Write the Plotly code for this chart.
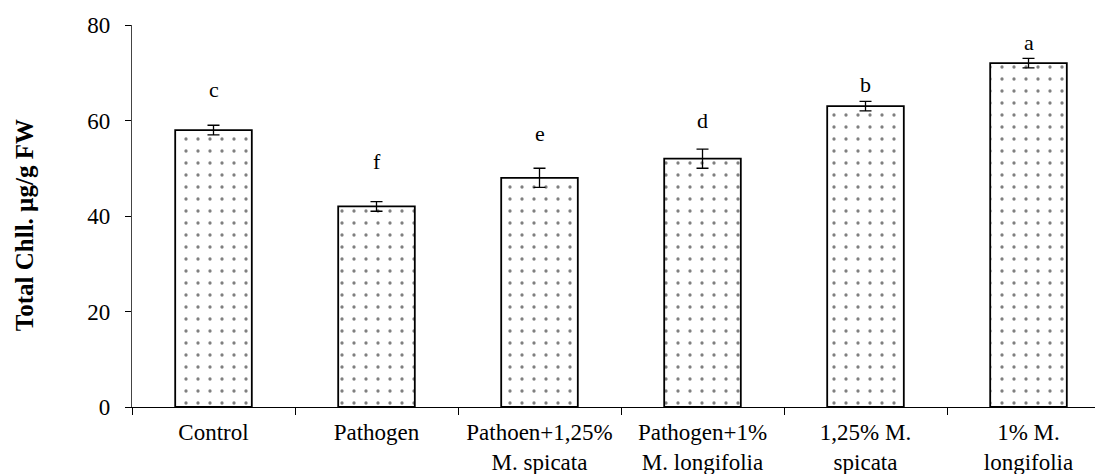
import plotly.graph_objects as go

categories = ["Control", "Pathogen", "Pathoen+1,25%<br>M. spicata", "Pathogen+1%<br>M. longifolia",
              "1,25% M.<br>spicata", "1% M.<br>longifolia"]
values = [58, 42, 48, 52, 63, 72]
errors = [1, 1, 2, 2, 1, 1]
letters = ["c", "f", "e", "d", "b", "a"]
letter_y = [66.4, 51.5, 57.2, 59.9, 67.6, 76.4]
y_ticks = [0, 20, 40, 60, 80]

font_family = "Liberation Serif, Times New Roman, serif"

fig = go.Figure()
fig.add_trace(go.Bar(
    x=categories, y=values,
    width=0.47,
    marker=dict(color="white",
                line=dict(color="black", width=1.8),
                pattern=dict(shape=".", fgcolor="black", bgcolor="white", size=12, solidity=0.06)),
    error_y=dict(type="data", array=errors, visible=True, color="black", thickness=1.3, width=6),
    showlegend=False,
))

for c, l, ly in zip(categories, letters, letter_y):
    fig.add_annotation(x=c, y=ly, text=l, showarrow=False,
                       font=dict(family=font_family, size=22, color="black"))

# y-axis title as a rotated annotation (placed a little below the axis centre, as in the reference)
fig.add_annotation(x=0, xref="paper", y=0.476, yref="paper", xanchor="center", yanchor="middle",
                   xshift=-108, textangle=-90, showarrow=False,
                   text="<b>Total Chll. µg/g FW</b>",
                   font=dict(family=font_family, size=25, color="black"))

# page body has an 8px margin; compensate so the plot area sits where the reference's does
fig.update_layout(
    width=1095, height=466,
    margin=dict(l=124, r=0, t=17, b=67),
    paper_bgcolor="white", plot_bgcolor="white",
    font=dict(family=font_family, size=22, color="black"),
)
fig.update_xaxes(
    range=[-0.5, 5.457],
    showline=True, linecolor="black", linewidth=1.3,
    ticks="outside", tickson="boundaries", ticklen=7, tickcolor="black",
    showgrid=False, tickfont=dict(size=23), ticklabelstandoff=4,
)
fig.update_yaxes(
    range=[0, 80], tickvals=y_ticks,
    showline=True, linecolor="#444", linewidth=1.3,
    ticks="outside", ticklen=6, tickcolor="black",
    showgrid=False, zeroline=False, tickfont=dict(size=23),
    ticklabelstandoff=10,
)

fig.write_html("out.html")
